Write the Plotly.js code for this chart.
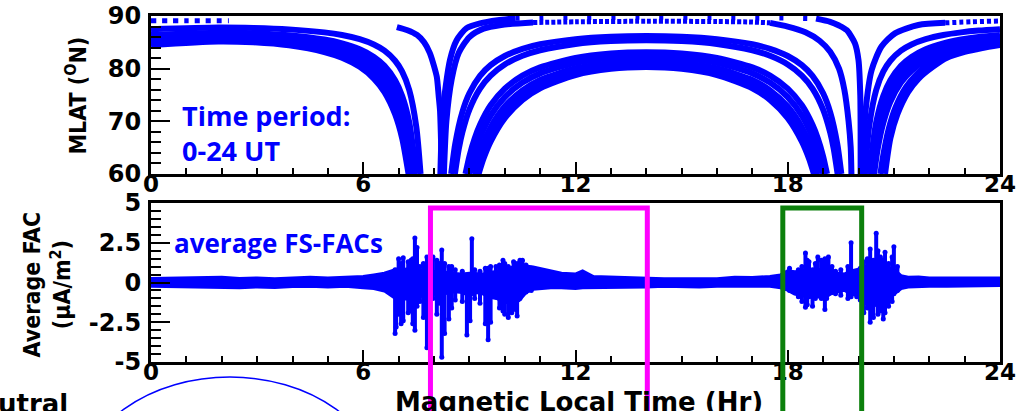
<!DOCTYPE html>
<html><head><meta charset="utf-8">
<script src="https://cdn.plot.ly/plotly-3.0.1.min.js"></script>
<style>html,body{margin:0;padding:0;background:#fff;overflow:hidden}#chart{width:1019px;height:411px}</style>
</head><body><div id="chart"></div>
<script>
// ================= TOP PANEL: satellite tracks (MLT [h], MLAT [deg]) =================
// day-side passes (dawn foot -> noon -> dusk foot)
const D1_rise_mlt = [8.18, 8.25, 8.45, 8.64, 8.92, 9.3, 9.8, 10.3];
const D1_rise_lat = [60, 72, 81.6, 85.4, 87.7, 88.6, 89.2, 89.55];
const D1_top_mlt  = [10.3, 11, 12, 14, 16, 17, 18, 18.8];
const D1_top_lat  = [89.55, 89.65, 89.72, 89.75, 89.72, 89.65, 89.6, 89.5];
const D1_fall_mlt = [18.8, 19.2, 19.45, 19.67, 19.9, 20.0, 20.05, 20.06, 20.06];
const D1_fall_lat = [89.5, 88.9, 88.2, 87.3, 84.8, 81.6, 75, 68, 60];

const D2_rise_mlt = [8.28, 8.35, 8.5, 8.7, 9.0, 9.4, 9.9, 10.8];
const D2_rise_lat = [60, 70, 78, 83, 86.0, 87.6, 88.3, 88.75];
const D2_top_mlt  = [10.8, 12, 14, 16, 17, 17.5];
const D2_top_lat  = [88.75, 88.9, 89.0, 88.95, 88.85, 88.7];
const D2_fall_mlt = [17.5, 18.0, 18.5, 18.9, 19.2, 19.45, 19.6, 19.72, 19.78, 19.8];
const D2_fall_lat = [88.7, 88.0, 86.9, 85.3, 83.2, 80, 76, 70, 65, 60];

const D3_mlt = [8.485, 8.6, 8.8, 9.0, 9.3, 9.6, 10, 10.5, 11, 12, 13, 14, 15, 16, 17, 17.5, 18, 18.4, 18.7, 19.0, 19.2, 19.4, 19.515];
const D3_lat = [60, 65.71, 71.72, 75.32, 78.62, 80.66, 82.4, 83.76, 84.63, 85.61, 86.07, 86.2, 86.07, 85.61, 84.63, 83.76, 82.4, 80.66, 78.62, 75.32, 71.72, 65.71, 60];
const D4_mlt = [8.59, 8.7, 8.8, 9.0, 9.3, 9.6, 10, 10.5, 11, 12, 13, 14, 15, 16, 17, 17.5, 18, 18.4, 18.7, 19.0, 19.2, 19.3, 19.41];
const D4_lat = [60, 64.76, 67.88, 72.23, 76.22, 78.69, 80.8, 82.44, 83.49, 84.69, 85.24, 85.4, 85.24, 84.69, 83.49, 82.44, 80.8, 78.69, 76.22, 72.23, 67.88, 64.76, 60];
const D5_mlt = [8.89, 9.0, 9.15, 9.3, 9.6, 10, 10.5, 11, 12, 13, 14, 15, 16, 17, 17.5, 18, 18.4, 18.7, 18.85, 19.0, 19.11];
const D5_lat = [60, 63.34, 66.73, 69.33, 73.04, 76.2, 78.67, 80.24, 82.03, 82.86, 83.1, 82.86, 82.03, 80.24, 78.67, 76.2, 73.04, 69.33, 66.73, 63.34, 60];
const D6_mlt = [8.99, 9.15, 9.3, 9.6, 10, 10.5, 11, 12, 13, 14, 15, 16, 17, 17.5, 18, 18.4, 18.7, 18.85, 19.01];
const D6_lat = [60, 64.03, 66.93, 71.07, 74.6, 77.35, 79.11, 81.11, 82.03, 82.3, 82.03, 81.11, 79.11, 77.35, 74.6, 71.07, 66.93, 64.03, 60];
const D7_mlt = [9.11, 9.3, 9.6, 10, 10.5, 11, 12, 13, 14, 15, 16, 17, 17.5, 18, 18.4, 18.7, 18.89];
const D7_lat = [60, 64.24, 68.86, 72.8, 75.87, 77.84, 80.07, 81.1, 81.4, 81.1, 80.07, 77.84, 75.87, 72.8, 68.86, 64.24, 60];
const D8_mlt = [9.19, 9.4, 9.6, 10, 10.5, 11, 12, 13, 14, 15, 16, 17, 17.5, 18, 18.4, 18.6, 18.81];
const D8_lat = [60, 64.33, 67.38, 71.6, 74.89, 76.99, 79.38, 80.48, 80.8, 80.48, 79.38, 76.99, 74.89, 71.6, 67.38, 64.33, 60];
const D9_mlt = [9.26, 9.4, 9.6, 10, 10.5, 11, 12, 13, 14, 15, 16, 17, 17.5, 18, 18.4, 18.6, 18.74];
const D9_lat = [60, 62.94, 66.15, 70.6, 74.07, 76.28, 78.8, 79.96, 80.3, 79.96, 78.8, 76.28, 74.07, 70.6, 66.15, 62.94, 60];

// night-side passes (dusk foot -> midnight -> dawn foot), split at 24/0
const N1_right_mlt = [20.1, 20.15, 20.2, 20.37, 20.65, 21.03, 21.69, 22.45];
const N1_right_lat = [60, 66, 72, 79.7, 84.2, 86.7, 88.3, 88.7];
const N1_rdot_mlt  = [22.45, 23.2, 24];
const N1_rdot_lat  = [88.7, 88.9, 89.05];
const N1_ldot_mlt  = [0, 1, 2.2];
const N1_ldot_lat  = [89.1, 89.1, 89.1];
const S_mlt = [6.95, 7.25, 7.52, 7.72, 7.88, 8.0, 8.08, 8.13, 8.17, 8.2, 8.22];
const S_lat = [87.9, 87.3, 86.4, 85.0, 83.0, 80.5, 78.4, 75, 72.1, 66, 60];

const N2_left_mlt  = [0, 1.9, 2.9, 3.9, 4.9, 5.4, 5.9, 6.3, 6.6, 6.9, 7.1, 7.3, 7.5, 7.62];
const N2_left_lat  = [87.5, 87.8, 87.72, 87.46, 86.89, 86.39, 85.6, 84.59, 83.41, 81.5, 79.42, 75.94, 68.95, 60];
const N2_right_mlt = [20.18, 20.3, 20.5, 20.7, 20.9, 21.2, 21.5, 21.9, 22.4, 22.9, 23.4, 24];
const N2_right_lat = [60, 68.95, 75.94, 79.42, 81.5, 83.41, 84.59, 85.6, 86.39, 86.89, 87.23, 87.5];
const N3_left_mlt  = [0, 1.9, 2.9, 3.9, 4.9, 5.4, 5.9, 6.3, 6.6, 6.9, 7.1, 7.3, 7.5];
const N3_left_lat  = [86.4, 86.84, 86.73, 86.35, 85.53, 84.81, 83.68, 82.23, 80.53, 77.79, 74.8, 69.8, 60];
const N3_right_mlt = [20.3, 20.5, 20.7, 20.9, 21.2, 21.5, 21.9, 22.4, 22.9, 23.4, 24];
const N3_right_lat = [60, 69.8, 74.8, 77.79, 80.53, 82.23, 83.68, 84.81, 85.53, 86.02, 86.4];
const N4_left_mlt  = [0, 1.9, 2.9, 3.9, 4.9, 5.4, 5.9, 6.3, 6.6, 6.9, 7.1, 7.3, 7.45];
const N4_left_lat  = [86.0, 86.49, 86.37, 85.95, 85.04, 84.23, 82.98, 81.37, 79.49, 76.44, 73.12, 67.56, 60];
const N4_right_mlt = [20.35, 20.5, 20.7, 20.9, 21.2, 21.5, 21.9, 22.4, 22.9, 23.4, 24];
const N4_right_lat = [60, 67.56, 73.12, 76.44, 79.49, 81.37, 82.98, 84.23, 85.04, 85.58, 86.0];
const N5_left_mlt  = [0, 1.9, 2.9, 3.9, 4.9, 5.4, 5.9, 6.3, 6.6, 6.9, 7.1, 7.3, 7.41];
const N5_left_lat  = [85.59, 86.13, 85.99, 85.53, 84.53, 83.64, 82.26, 80.49, 78.41, 75.05, 71.39, 65.26, 60];
const N5_right_mlt = [20.39, 20.5, 20.7, 20.9, 21.2, 21.5, 21.9, 22.4, 22.9, 23.4, 24];
const N5_right_lat = [60, 65.26, 71.39, 75.05, 78.41, 80.49, 82.26, 83.64, 84.53, 85.12, 85.59];
const N6_left_mlt  = [0, 1.9, 2.9, 3.9, 4.9, 5.4, 5.9, 6.3, 6.6, 6.9, 7.1, 7.25, 7.36];
const N6_left_lat  = [85.2, 85.78, 85.63, 85.13, 84.03, 83.07, 81.56, 79.62, 77.36, 73.7, 69.7, 65.08, 60];
const N6_right_mlt = [20.44, 20.55, 20.7, 20.9, 21.2, 21.5, 21.9, 22.4, 22.9, 23.4, 24];
const N6_right_lat = [60, 65.08, 69.7, 73.7, 77.36, 79.62, 81.56, 83.07, 84.03, 84.68, 85.2];
const N7_left_mlt  = [0, 1.9, 2.9, 3.9, 4.9, 5.4, 5.9, 6.3, 6.6, 6.9, 7.1, 7.25, 7.33];
const N7_left_lat  = [84.9, 85.52, 85.36, 84.83, 83.66, 82.64, 81.04, 78.99, 76.58, 72.69, 68.45, 63.54, 60];
const N7_right_mlt = [20.62, 20.7, 20.85, 21.05, 21.35, 21.65, 22.0, 22.5, 23.0, 23.5, 24];
const N7_right_lat = [60, 63.54, 68.45, 72.69, 76.58, 78.99, 81.04, 82.64, 83.66, 84.35, 84.9];
const N8_left_mlt  = [0, 1.9, 2.9, 3.9, 4.9, 5.4, 5.9, 6.3, 6.6, 6.9, 7.1, 7.28];
const N8_left_lat  = [84.5, 85.17, 85.0, 84.42, 83.17, 82.07, 80.34, 78.12, 75.53, 71.34, 66.77, 60];
const N8_right_mlt = [20.75, 20.9, 21.1, 21.4, 21.7, 22.1, 22.5, 23.0, 23.5, 24];
const N8_right_lat = [60, 66.77, 71.34, 75.53, 78.12, 80.34, 82.07, 83.17, 83.91, 84.5];

// ================= BOTTOM PANEL: average FS-FACs (uA/m^2) =================
const bandMLT = [0,0.5,1,1.5,2,2.5,3,3.5,4,4.5, 5,5.5,6,6.3,6.6,6.8,7.0,7.2,7.4,7.6, 7.8,8.0,8.2,8.4,8.6,8.8,9.0,9.2,9.4,9.6, 9.8,10.0,10.2,10.4,10.6,10.8,11.0,11.3,11.6,12.0, 12.2,12.5,13,13.5,14,14.5,15,15.5,16,16.5, 17,17.5,17.8,18.0,18.2,18.4,18.6,18.8,19.0,19.2, 19.4,19.6,19.8,20.0,20.2,20.4,20.6,20.8,21.0,21.2, 21.4,21.7,22,22.5,23,23.5,24];
const bandUpper = [0.22,0.25,0.28,0.25,0.3,0.22,0.25,0.2,0.22,0.3, 0.25,0.3,0.35,0.45,0.55,0.7,0.85,0.8,0.9,0.7, 0.8,0.65,0.7,0.55,0.5,0.5,0.55,0.5,0.5,0.6, 0.7,0.8,0.85,0.9,1.0,0.95,0.85,0.7,0.55,0.5, 0.7,0.35,0.3,0.3,0.25,0.2,0.2,0.18,0.2,0.3, 0.28,0.35,0.45,0.7,0.65,0.7,0.8,0.75,0.8,0.7, 0.55,0.5,0.7,0.8,1.0,1.1,1.0,0.9,0.8,0.4, 0.3,0.32,0.25,0.25,0.28,0.25,0.25];
const bandLower = [-0.2,-0.22,-0.2,-0.25,-0.22,-0.3,-0.25,-0.28,-0.22,-0.2, -0.25,-0.2,-0.3,-0.35,-0.5,-0.8,-1.1,-1.0,-1.1,-0.8, -0.9,-0.7,-0.8,-0.6,-0.55,-0.6,-0.8,-0.6,-0.7,-0.9, -1.0,-1.2,-1.3,-1.1,-0.6,-0.4,-0.35,-0.3,-0.3,-0.35, -0.3,-0.3,-0.3,-0.25,-0.25,-0.2,-0.22,-0.25,-0.2,-0.2, -0.25,-0.2,-0.3,-0.45,-0.7,-0.8,-0.9,-0.8,-1.0,-0.7, -0.55,-0.45,-0.7,-0.8,-1.3,-1.5,-1.2,-1.1,-0.7,-0.35, -0.25,-0.2,-0.2,-0.2,-0.18,-0.2,-0.15];
// columns of scattered points: position, highest and lowest value
const spikeMLT = [6.9,6.93,7.0,7.07,7.13,7.27,7.35,7.4,7.46,7.52, 7.6,7.7,7.8,7.97,8.08,8.15,8.22,8.3,8.42,8.5, 8.6,8.8,8.93,9.02,9.07,9.15,9.3,9.45,9.53,9.6, 9.75,9.85,9.95,10.0,10.1,10.2,10.25,10.3,10.35,10.43, 10.5,10.6,10.75,
  18.05,18.3,18.4,18.5,18.55,18.6,18.7,18.78,18.85,18.95, 19.05,19.1,19.15,19.25,19.35,19.5,19.7,19.79,19.95,20.05, 20.15,20.25,20.33,20.42,20.5,20.55,20.62,20.7,20.75,20.85, 20.95,21.0,21.1];
const spikeTop = [0.8,0.6,1.5,1.2,1.55,1.3,1.4,1.5,2.8,2.2, 1.0,1.2,1.6,1.6,1.4,1.2,2.05,1.2,1.0,1.0, 0.8,0.7,0.3,0.5,2.75,0.8,0.7,0.9,0.9,1.0, 1.0,1.1,1.4,1.2,1.0,0.9,1.3,1.0,1.2,1.4, 1.4,1.1,0.9,
  0.9,0.8,1.0,1.85,1.4,1.3,0.8,1.2,1.6,1.4, 1.5,1.3,1.6,1.0,0.7,0.8,1.0,2.5,0.6,0.9, 1.3,1.5,2.1,1.4,3.1,2.0,1.6,1.4,1.9,1.2, 1.6,2.25,1.0];
const spikeBottom = [-3.2,-2.8,-2.0,-2.6,-2.4,-1.9,-1.8,-2.6,-3.0,-1.5, -1.2,-2.2,-4.1,-1.0,-2.0,-1.3,-4.7,-3.2,-2.3,-1.6, -1.1,-1.2,-3.3,-2.4,-0.5,-1.0,-1.3,-2.6,-3.6,-2.5, -0.9,-1.6,-1.8,-2.0,-2.2,-1.9,-1.6,-1.7,-2.1,-1.0, -0.5,-0.6,-0.5,
  -0.5,-0.9,-1.2,-1.55,-1.4,-0.9,-1.5,-1.0,-0.8,-1.0, -1.7,-1.0,-0.7,-0.6,-0.7,-0.8,-1.0,-0.9,-0.9,-1.1, -1.9,-1.6,-2.5,-2.2,-1.3,-2.0,-1.8,-2.3,-1.9,-1.5, -1.2,-0.7,-0.5];

// axis tick labels
const xTickVals = [0, 6, 12, 18, 24];
const xTickText = ['0', '6', '12', '18', '24'];
const latTickVals = [60, 70, 80, 90];
const latTickText = ['60', '70', '80', '90'];
const facTickVals = [-5, -2.5, 0, 2.5, 5];
const facTickText = ['-5', '-2.5', '0', '2.5', '5'];

// ================= build traces =================
const BLUE = '#0000ff';
const traces = [];
function track(x, y, width, dash) {
  traces.push({type: 'scatter', mode: 'lines', x: x, y: y, xaxis: 'x', yaxis: 'y',
    line: {color: BLUE, width: width || 6, shape: 'spline', smoothing: 0.7, dash: dash || 'solid'},
    hoverinfo: 'skip', showlegend: false});
}
[[N2_left_mlt,N2_left_lat],[N3_left_mlt,N3_left_lat],[N4_left_mlt,N4_left_lat],[N5_left_mlt,N5_left_lat],
 [N6_left_mlt,N6_left_lat],[N7_left_mlt,N7_left_lat],[N8_left_mlt,N8_left_lat],
 [N2_right_mlt,N2_right_lat],[N3_right_mlt,N3_right_lat],[N4_right_mlt,N4_right_lat],[N5_right_mlt,N5_right_lat],
 [N6_right_mlt,N6_right_lat],[N7_right_mlt,N7_right_lat],[N8_right_mlt,N8_right_lat],
 [N1_right_mlt,N1_right_lat],[S_mlt,S_lat],
 [D3_mlt,D3_lat],[D4_mlt,D4_lat],[D5_mlt,D5_lat],[D6_mlt,D6_lat],[D7_mlt,D7_lat],[D8_mlt,D8_lat],[D9_mlt,D9_lat],
 [D1_rise_mlt,D1_rise_lat],[D1_fall_mlt,D1_fall_lat],[D2_rise_mlt,D2_rise_lat],[D2_fall_mlt,D2_fall_lat]
].forEach(p => track(p[0], p[1]));
track(D1_top_mlt, D1_top_lat, 5, '4px,20px');
track(D2_top_mlt, D2_top_lat, 5, '4px,2px');
track(N1_rdot_mlt, N1_rdot_lat, 5, '4px,3px');
track(N1_ldot_mlt, N1_ldot_lat, 5, '5px,6px');

// FAC band (envelope of the dense points)
traces.push({type: 'scatter', mode: 'lines', x: bandMLT, y: bandUpper, xaxis: 'x2', yaxis: 'y2',
  line: {color: BLUE, width: 4}, hoverinfo: 'skip', showlegend: false});
traces.push({type: 'scatter', mode: 'lines', x: bandMLT, y: bandLower, xaxis: 'x2', yaxis: 'y2',
  line: {color: BLUE, width: 4}, fill: 'tonexty', fillcolor: BLUE, hoverinfo: 'skip', showlegend: false});
// FAC columns
const sx = [], sy = [];
spikeMLT.forEach((m, i) => { sx.push(m, m, null); sy.push(spikeBottom[i], spikeTop[i], null); });
traces.push({type: 'scatter', mode: 'lines+markers', x: sx, y: sy, xaxis: 'x2', yaxis: 'y2',
  line: {color: BLUE, width: 4}, marker: {color: BLUE, size: 5}, connectgaps: false,
  hoverinfo: 'skip', showlegend: false});

// ================= layout =================
const tickFontX = {family: 'DejaVu Sans', size: 23, color: '#000', weight: 700};
const tickFontY = {family: 'DejaVu Sans', size: 24, color: '#000', weight: 700};
function xAxis(anchor) {
  return {domain: [0, 1], anchor: anchor, range: [0, 24], tickmode: 'array', tickvals: xTickVals, ticktext: xTickText,
    ticks: 'inside', ticklen: 12, tickwidth: 2, tickcolor: '#000',
    minor: {dtick: 1, tick0: 0, ticks: 'inside', ticklen: 6, tickwidth: 2, tickcolor: '#000', showgrid: false},
    showline: true, linewidth: 3, linecolor: '#000', mirror: true, showgrid: false, zeroline: false,
    tickfont: tickFontX, ticklabelstandoff: -13, fixedrange: true};
}
function yAxis(anchor, domain, range, vals, text, minorStep) {
  return {domain: domain, anchor: anchor, range: range, tickmode: 'array', tickvals: vals, ticktext: text,
    ticks: 'inside', ticklen: 19, tickwidth: 2, tickcolor: '#000',
    minor: {dtick: minorStep, tick0: range[0], ticks: 'inside', ticklen: 10, tickwidth: 2, tickcolor: '#000', showgrid: false},
    showline: true, linewidth: 3, linecolor: '#000', mirror: true, showgrid: false, zeroline: false,
    tickfont: tickFontY, ticklabelstandoff: 2, fixedrange: true};
}
const titleFont = {family: 'Liberation Sans Narrow, DejaVu Sans Condensed, sans-serif', size: 23, color: '#000', weight: 700};
const layout = {
  width: 1019, height: 411, autosize: false,
  margin: {l: 151, r: 19, t: 16, b: 49, pad: 0},
  paper_bgcolor: '#fff', plot_bgcolor: '#fff', showlegend: false,
  xaxis: xAxis('y'),
  yaxis: yAxis('x', [0.5434, 1], [60, 90], latTickVals, latTickText, 2),
  xaxis2: xAxis('y2'),
  yaxis2: yAxis('x2', [0, 0.4595], [-5, 5], facTickVals, facTickText, 0.5),
  annotations: [
    {xref: 'paper', yref: 'paper', x: -0.0883, y: 0.77, text: 'MLAT (<sup>O</sup>N)', textangle: -90,
     showarrow: false, xanchor: 'center', yanchor: 'middle', font: titleFont},
    {xref: 'paper', yref: 'paper', x: -0.122, y: 0.2254, text: 'Average FAC<br>(\u00b5A/m<sup>2</sup>)', textangle: -90,
     showarrow: false, xanchor: 'center', yanchor: 'middle', font: titleFont},
    {xref: 'paper', yref: 'paper', x: 0.504, y: -0.115, text: 'Magnetic Local Time (Hr)', showarrow: false,
     xanchor: 'center', yanchor: 'middle', font: {family: 'DejaVu Sans', size: 26, color: '#000', weight: 700}},
    {xref: 'paper', yref: 'paper', x: 0.034, y: 0.662, text: 'Time period:<br>0-24 UT', showarrow: false, align: 'left',
     xanchor: 'left', yanchor: 'middle', font: {family: 'Open Sans', size: 27, color: BLUE, weight: 700}},
    {xref: 'paper', yref: 'paper', x: 0.0247, y: 0.344, text: 'average FS-FACs', showarrow: false,
     xanchor: 'left', yanchor: 'middle', font: {family: 'Open Sans', size: 26, color: BLUE, weight: 700}},
    {xref: 'paper', yref: 'paper', x: -0.0954, y: -0.1214, text: 'utral', showarrow: false,
     xanchor: 'right', yanchor: 'middle', font: {family: 'DejaVu Sans', size: 26, color: '#000', weight: 700}}
  ],
  shapes: [
    {type: 'path', xref: 'x2', yref: 'paper', path: 'M 7.9,-0.2 L 7.9,0.445 L 14.03,0.445 L 14.03,-0.2',
     line: {color: '#ff00ff', width: 5}},
    {type: 'path', xref: 'x2', yref: 'paper', path: 'M 17.86,-0.2 L 17.86,0.445 L 20.09,0.445 L 20.09,-0.2',
     line: {color: '#0c800c', width: 5}},
    {type: 'circle', xref: 'paper', yref: 'paper', x0: -0.0836, x1: 0.2697, y0: -0.679, y1: -0.0434,
     line: {color: BLUE, width: 1.5}}
  ]
};
Plotly.newPlot('chart', traces, layout, {staticPlot: true, displayModeBar: false});
</script>
</body></html>
